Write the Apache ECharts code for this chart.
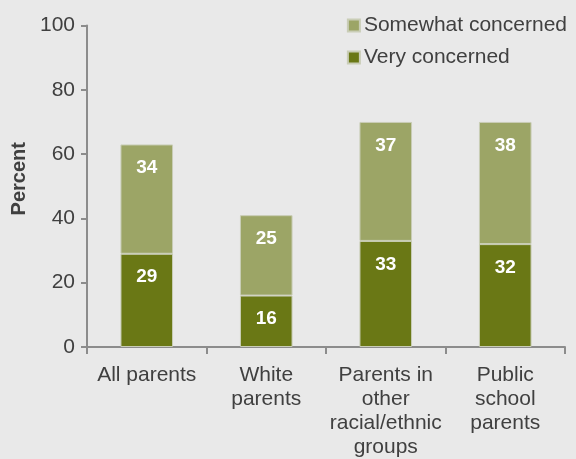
<!DOCTYPE html>
<html><head><meta charset="utf-8">
<script src="https://cdn.jsdelivr.net/npm/echarts@6/dist/echarts.min.js"></script>
<style>html,body{margin:0;padding:0;background:#e9e9e9;}#c{width:576px;height:459px;}</style>
</head><body><div id="c"></div>
<script>
const categories = ['All parents', 'White\nparents', 'Parents in\nother\nracial/ethnic\ngroups', 'Public\nschool\nparents'];
const veryConcerned = [29, 16, 33, 32];
const somewhatConcerned = [34, 25, 37, 38];
const yTicks = [0, 20, 40, 60, 80, 100];

const chart = echarts.init(document.getElementById('c'));
const font = 'Liberation Sans, Arial, sans-serif';
const lbl = {show: true, position: 'insideTop', distance: 14, color: '#fff', fontWeight: 'bold', fontSize: 19, fontFamily: font};
chart.setOption({
  backgroundColor: '#e9e9e9',
  animation: false,
  grid: {left: 87, width: 478, top: 25.5, height: 325, containLabel: false},
  legend: {
    data: ['Somewhat concerned', 'Very concerned'],
    orient: 'vertical', right: 4, top: 10, itemWidth: 12, itemHeight: 12, itemGap: 11, icon: 'rect',
    textStyle: {fontSize: 21, color: '#404040', fontFamily: font, padding: [0, 0, 0, -1]}
  },
  xAxis: {
    type: 'category', data: categories,
    axisLine: {lineStyle: {color: '#8c8c8c', width: 2}},
    axisTick: {show: true, length: 7, lineStyle: {color: '#8c8c8c', width: 2}},
    axisLabel: {fontSize: 21, color: '#404040', fontFamily: font, lineHeight: 24, margin: 16, interval: 0}
  },
  yAxis: {
    type: 'value', min: 0, max: 100, interval: 20,
    name: 'Percent', nameLocation: 'middle', nameGap: 54, nameRotate: 90,
    nameTextStyle: {fontSize: 20, fontWeight: 'bold', color: '#404040', fontFamily: font, padding: [0, 0, 0, 15]},
    axisLine: {show: true, lineStyle: {color: '#8c8c8c', width: 2}},
    axisTick: {show: true, inside: false, length: 6, lineStyle: {color: '#8c8c8c', width: 2}},
    splitLine: {show: false},
    axisLabel: {fontSize: 21, color: '#404040', fontFamily: font, margin: 12,
      formatter: v => yTicks.includes(v) ? String(v) : ''}
  },
  series: [
    {name: 'Very concerned', type: 'bar', stack: 'a', data: veryConcerned, barWidth: '44%',
     itemStyle: {color: '#6a7815', borderColor: '#c9cdb6', borderWidth: 1}, label: lbl},
    {name: 'Somewhat concerned', type: 'bar', stack: 'a', data: somewhatConcerned, barWidth: '44%',
     itemStyle: {color: '#9ca566', borderColor: '#c9cdb6', borderWidth: 1}, label: lbl}
  ]
});
</script></body></html>
